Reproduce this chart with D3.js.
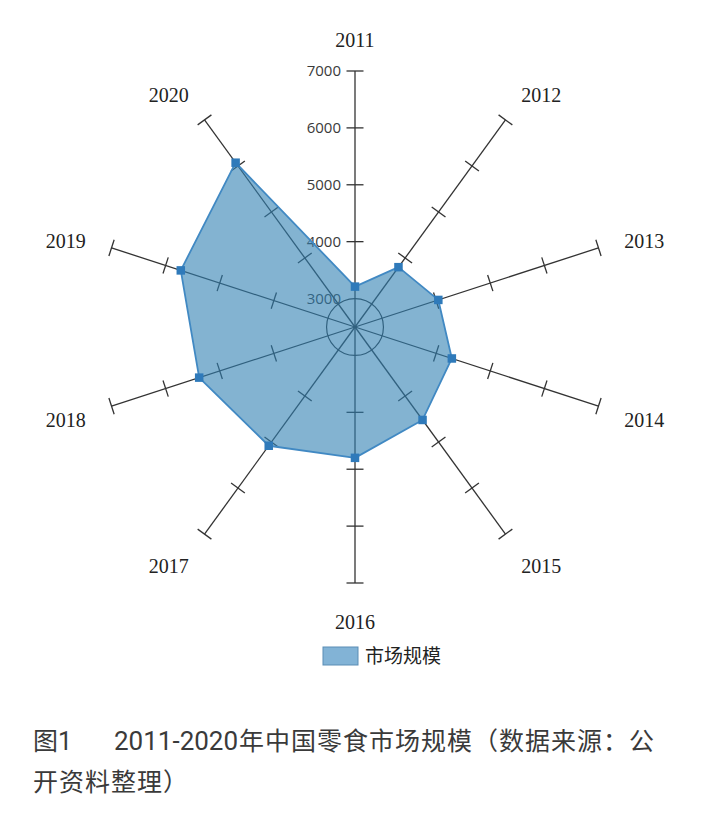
<!DOCTYPE html>
<html>
<head>
<meta charset="utf-8">
<script src="https://cdn.jsdelivr.net/npm/d3@7"></script>
<style>
  html, body { margin: 0; padding: 0; background: #fff; }
  svg { display: block; }
</style>
</head>
<body>
<svg id="chart" width="704" height="814"></svg>
<script>
// 年份（雷达图各轴）
var years = ['2011', '2012', '2013', '2014', '2015', '2016', '2017', '2018', '2019', '2020'];
// 市场规模（亿元）
var marketSize = [3210, 3800, 4040, 4290, 4520, 4800, 5080, 5380, 5720, 6070];
// 刻度
var tickValues = [3000, 4000, 5000, 6000, 7000];
var seriesName = '市场规模';
var captionNo = '图1';
var captionYears = '2011-2020';
var captionLine1 = '年中国零食市场规模（数据来源：公';
var captionLine2 = '开资料整理）';

var width = 704, height = 814;
var cx = 355, cy = 327;
var svg = d3.select('#chart');

// 半径比例尺：中心对应 2500
var r = d3.scaleLinear().domain([2500, 7000]).range([0, 256]);
// 角度比例尺（从正上方顺时针）
var angle = d3.scaleLinear().domain([0, years.length]).range([0, 2 * Math.PI]);

function pt(i, v) {
    var a = angle(i), rr = r(v);
    return [cx + rr * Math.sin(a), cy - rr * Math.cos(a)];
}

var g = svg.append('g');

// 内圈（3000）
g.append('circle')
    .attr('cx', cx).attr('cy', cy)
    .attr('r', r(tickValues[0]))
    .attr('fill', 'none')
    .attr('stroke', '#333')
    .attr('stroke-width', 1.2);

// 坐标轴
var axes = g.selectAll('g.axis')
    .data(years)
    .enter()
    .append('g')
    .attr('class', 'axis');

axes.append('line')
    .attr('x1', cx).attr('y1', cy)
    .attr('x2', (d, i) => pt(i, 7000)[0])
    .attr('y2', (d, i) => pt(i, 7000)[1])
    .attr('stroke', '#333')
    .attr('stroke-width', 1.3);

// 轴上的刻度线（垂直于轴）
var half = 8.5;
axes.each(function(d, i){
    var a = angle(i);
    var px = Math.cos(a), py = Math.sin(a);
    d3.select(this).selectAll('line.tick')
        .data(tickValues.slice(1))
        .enter()
        .append('line')
        .attr('class', 'tick')
        .attr('x1', v => pt(i, v)[0] - half * px)
        .attr('y1', v => pt(i, v)[1] - half * py)
        .attr('x2', v => pt(i, v)[0] + half * px)
        .attr('y2', v => pt(i, v)[1] + half * py)
        .attr('stroke', '#333')
        .attr('stroke-width', 1.3);
});

// 刻度文字（只在 2011 轴）
g.selectAll('text.tickLabel')
    .data(tickValues)
    .enter()
    .append('text')
    .attr('class', 'tickLabel')
    .attr('x', cx - 14)
    .attr('y', v => cy - r(v))
    .attr('dy', '0.35em')
    .attr('text-anchor', 'end')
    .attr('font-family', '"Open Sans", "Liberation Sans", sans-serif')
    .attr('font-size', 15)
    .attr('fill', '#3a3a3a')
    .text(v => v);

// 数据面积
var radarLine = d3.line().curve(d3.curveLinearClosed);
var points = marketSize.map((v, i) => pt(i, v));

g.append('path')
    .attr('d', radarLine(points))
    .attr('fill', 'rgb(48,128,178)')
    .attr('fill-opacity', 0.6)
    .attr('stroke', '#4189c3')
    .attr('stroke-width', 1.8)
    .attr('stroke-linejoin', 'round');

// 数据点
var ms = 8.5;
g.selectAll('rect.marker')
    .data(marketSize)
    .enter()
    .append('rect')
    .attr('class', 'marker')
    .attr('x', (v, i) => pt(i, v)[0] - ms / 2)
    .attr('y', (v, i) => pt(i, v)[1] - ms / 2)
    .attr('width', ms).attr('height', ms)
    .attr('fill', '#2f7aba');

// 年份标签
var Lx = 283, Ly = 291;
g.selectAll('text.yearLabel')
    .data(years)
    .enter()
    .append('text')
    .attr('class', 'yearLabel')
    .attr('x', (d, i) => cx + Lx * Math.sin(angle(i)))
    .attr('y', (d, i) => cy + 3.5 - Ly * Math.cos(angle(i)))
    .attr('dy', '0.35em')
    .attr('text-anchor', (d, i) => {
        var s = Math.sin(angle(i));
        return s > 0.01 ? 'start' : (s < -0.01 ? 'end' : 'middle');
    })
    .attr('font-family', '"Liberation Serif", "Times New Roman", serif')
    .attr('font-size', 20)
    .attr('fill', '#222')
    .text(d => d);

// 图例
var legend = svg.append('g').attr('transform', 'translate(323,647)');
legend.append('rect')
    .attr('width', 35).attr('height', 18)
    .attr('fill', '#82b3d6')
    .attr('stroke', '#5a8db5')
    .attr('stroke-width', 1);
legend.append('text')
    .attr('x', 42).attr('y', 9)
    .attr('dy', '0.36em')
    .attr('font-family', '"Noto Sans CJK SC", sans-serif')
    .attr('font-size', 19)
    .attr('fill', '#222')
    .text(seriesName);

// 图注
var cap = svg.append('g')
    .attr('font-family', 'Roboto, "Noto Sans CJK SC", sans-serif')
    .attr('font-size', 25)
    .attr('fill', '#3a3a3a');
var line1 = cap.append('text').attr('y', 750);
line1.append('tspan').attr('x', 33).text(captionNo);
line1.append('tspan').attr('x', 114).attr('font-size', 26).text(captionYears);
line1.append('tspan').attr('x', 239).attr('letter-spacing', 1).text(captionLine1);
cap.append('text').attr('x', 33).attr('y', 791)
    .attr('letter-spacing', 1)
    .text(captionLine2);
</script>
</body>
</html>
